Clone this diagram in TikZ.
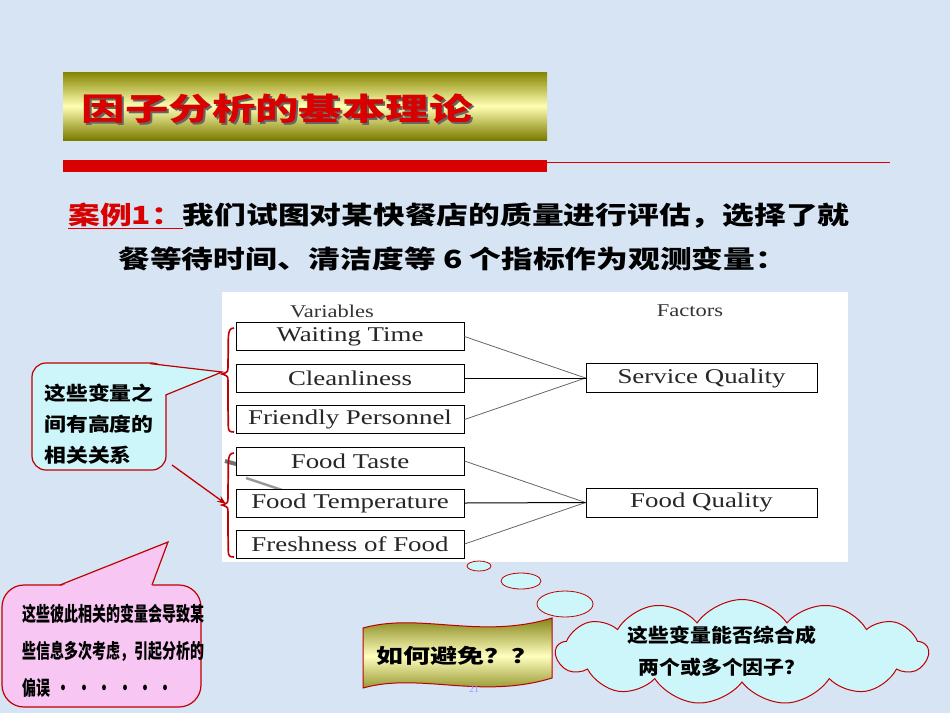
\documentclass[tikz,border=0pt]{standalone}
\usepackage{fontspec}
\setmainfont{Liberation Serif}
\newfontfamily\cjk{Noto Sans CJK SC}
\usetikzlibrary{shapes.symbols,arrows.meta}
\definecolor{bg}{HTML}{D6E4F4}
\definecolor{cyanf}{HTML}{CCF6FA}
\definecolor{pinkf}{HTML}{F8C6F2}
\definecolor{darkred}{HTML}{C00000}
\tikzset{
 varbox/.style={draw,line width=1pt,fill=white,minimum width=228pt,minimum height=28pt,inner sep=0pt},
 facbox/.style={draw,line width=1pt,fill=white,minimum width=231pt,minimum height=29pt,inner sep=0pt},
 vtext/.style={font=\fontsize{21}{22}\selectfont,text=black!85,xscale=1.28},
 conn/.style={draw=black!60,line width=0.8pt},
 brace/.style={draw=darkred,line width=1.6pt},
 cjkb/.style={font=\cjk\bfseries\fontsize{19}{30}\selectfont,align=left}
}
\begin{document}
\begin{tikzpicture}[x=1pt,y=-1pt]
\useasboundingbox (0,0) rectangle (950,713);
\fill[bg] (0,0) rectangle (950,713);
% title
\shade[top color=black!20!olive!80,bottom color=black!30!olive!80,middle color=yellow!30!white] (63,72) rectangle (547,140);
\node[anchor=west,font=\cjk\bfseries\fontsize{31}{32}\selectfont,text=black!60,xscale=1.4] (ttlsh) at (79,111) {因子分析的基本理论};
\node[anchor=west,font=\cjk\bfseries\fontsize{31}{32}\selectfont,text=red!85!black,xscale=1.4] (ttl) at (77,109) {因子分析的基本理论};
\fill[red!85!black] (63,160) rectangle (547,172);
\draw[red!85!black,line width=0.8pt] (547,162) -- (890,162);
% text
\node[anchor=west,font=\cjk\bfseries\fontsize{25}{26}\selectfont,inner sep=0pt,xscale=1.27] (l1) at (68,216) {\textcolor{red!85!black}{\underline{案例1：}}我们试图对某快餐店的质量进行评估，选择了就};
\node[anchor=west,font=\cjk\bfseries\fontsize{25}{26}\selectfont,inner sep=0pt,xscale=1.27] (l2) at (118,259) {餐等待时间、清洁度等 6 个指标作为观测变量：};
% panel
\fill[white] (222,292) rectangle (848,562);
\node[font=\fontsize{18}{18}\selectfont,xscale=1.25,text=black!80] (vh) at (332,311) {Variables};
\node[font=\fontsize{18}{18}\selectfont,xscale=1.25,text=black!80] (fh) at (690,311) {Factors};
\draw[black!55,line width=4pt] (225,461) -- (258,470);
\draw[black!40,line width=2.5pt] (246,478) -- (282,490);
\node[varbox] (v1) at (350,336.5) {};
\node[varbox] (v2) at (350,378) {};
\node[varbox] (v3) at (350,419.5) {};
\node[varbox] (v4) at (350,461) {};
\node[varbox] (v5) at (350,503) {};
\node[varbox] (v6) at (350,544) {};
\node[facbox] (f1) at (701.5,378) {};
\node[facbox] (f2) at (701.5,502.5) {};
\node[vtext] (t1) at (v1) {Waiting Time};
\node[vtext] (t2) at (v2) {Cleanliness};
\node[vtext] (t3) at (v3) {Friendly Personnel};
\node[vtext] (t4) at (v4) {Food Taste};
\node[vtext] (t5) at (v5) {Food Temperature};
\node[vtext] (t6) at (v6) {Freshness of Food};
\node[vtext] (t7) at (f1) {Service Quality};
\node[vtext] (t8) at (f2) {Food Quality};
\foreach \v in {v1,v3} \draw[conn] (\v.east) -- (f1.west);
\foreach \v in {v4,v6} \draw[conn] (\v.east) -- (f2.west);
\draw[black,line width=1pt] (v2.east) -- (f1.west);
\draw[black,line width=1pt] (v5.east) -- (f2.west);
% braces
\draw[brace] (234,328) .. controls (226,328) and (229,340) .. (228,360) -- (228,366) .. controls (228,372) .. (222,374) .. controls (228,376) .. (228,382) -- (228,410) .. controls (229,428) and (226,432) .. (234,432);
\draw[brace] (234,453) .. controls (226,453) and (229,465) .. (228,485) -- (228,497) .. controls (228,503) .. (222,505) .. controls (228,507) .. (228,513) -- (228,535) .. controls (229,553) and (226,557) .. (234,557);
% cyan callout
\draw[darkred,line width=1.2pt,fill=cyanf,rounded corners=14pt] (32,363) rectangle (166,470);
\fill[cyanf] (150,364) -- (222,372) -- (165,395) -- (165,380) -- cycle;
\draw[darkred,line width=1.2pt] (150,363.6) -- (222,372) -- (165.6,395);
\node[cjkb,font=\cjk\bfseries\fontsize{19}{31}\selectfont,xscale=1.15] (c1) at (99,424) {这些变量之\\间有高度的\\相关关系};
\draw[darkred,line width=1.3pt,-{Stealth[length=9pt]}] (172,465) -- (226,504);
% pink callout
\draw[darkred,line width=1.2pt,fill=pinkf,rounded corners=22pt] (2,585) rectangle (201,707);
\fill[pinkf] (60,586.5) -- (168,542) -- (152,586.5) -- cycle;
\draw[darkred,line width=1.2pt] (60,585) -- (168,542) -- (152,585);
\node[cjkb,anchor=west,font=\cjk\bfseries\fontsize{20}{37}\selectfont,xscale=0.7] (c2) at (20,651) {这些彼此相关的变量会导致某\\些信息多次考虑，引起分析的\\偏误 \ \textbullet\ \ \textbullet\ \ \textbullet\ \ \textbullet\ \ \textbullet\ \ \textbullet};
% banner
\shade[top color=olive!90!black,bottom color=olive!90!black,middle color=yellow!25!white,draw=darkred,line width=1pt]
 (363,628) .. controls (420,612) and (480,640) .. (552,618) -- (552,678) .. controls (480,700) and (420,672) .. (363,688) -- cycle;
\node[font=\cjk\bfseries\fontsize{20}{20}\selectfont,xscale=1.35] (bn) at (457,656) {如何避免？？};
\node[font=\fontsize{10}{10}\selectfont,text=blue!40] (pg) at (474,689) {21};
% thought bubbles
\draw[darkred,line width=0.8pt,fill=cyanf] (479,566) ellipse (12 and 5);
\draw[darkred,line width=0.8pt,fill=cyanf] (521,581) ellipse (20 and 8);
\draw[darkred,line width=0.8pt,fill=cyanf] (565,604) ellipse (28 and 13);
\node[cloud,cloud puffs=13,cloud puff arc=110,aspect=3.3,draw=darkred,line width=1pt,fill=cyanf,minimum width=372pt,minimum height=105pt] (cl) at (742,652) {};
\node[cjkb,align=center,font=\cjk\bfseries\fontsize{19}{32}\selectfont,xscale=1.1] (c3) at (722,651) {这些变量能否综合成\\两个或多个因子？};
\end{tikzpicture}
\end{document}
